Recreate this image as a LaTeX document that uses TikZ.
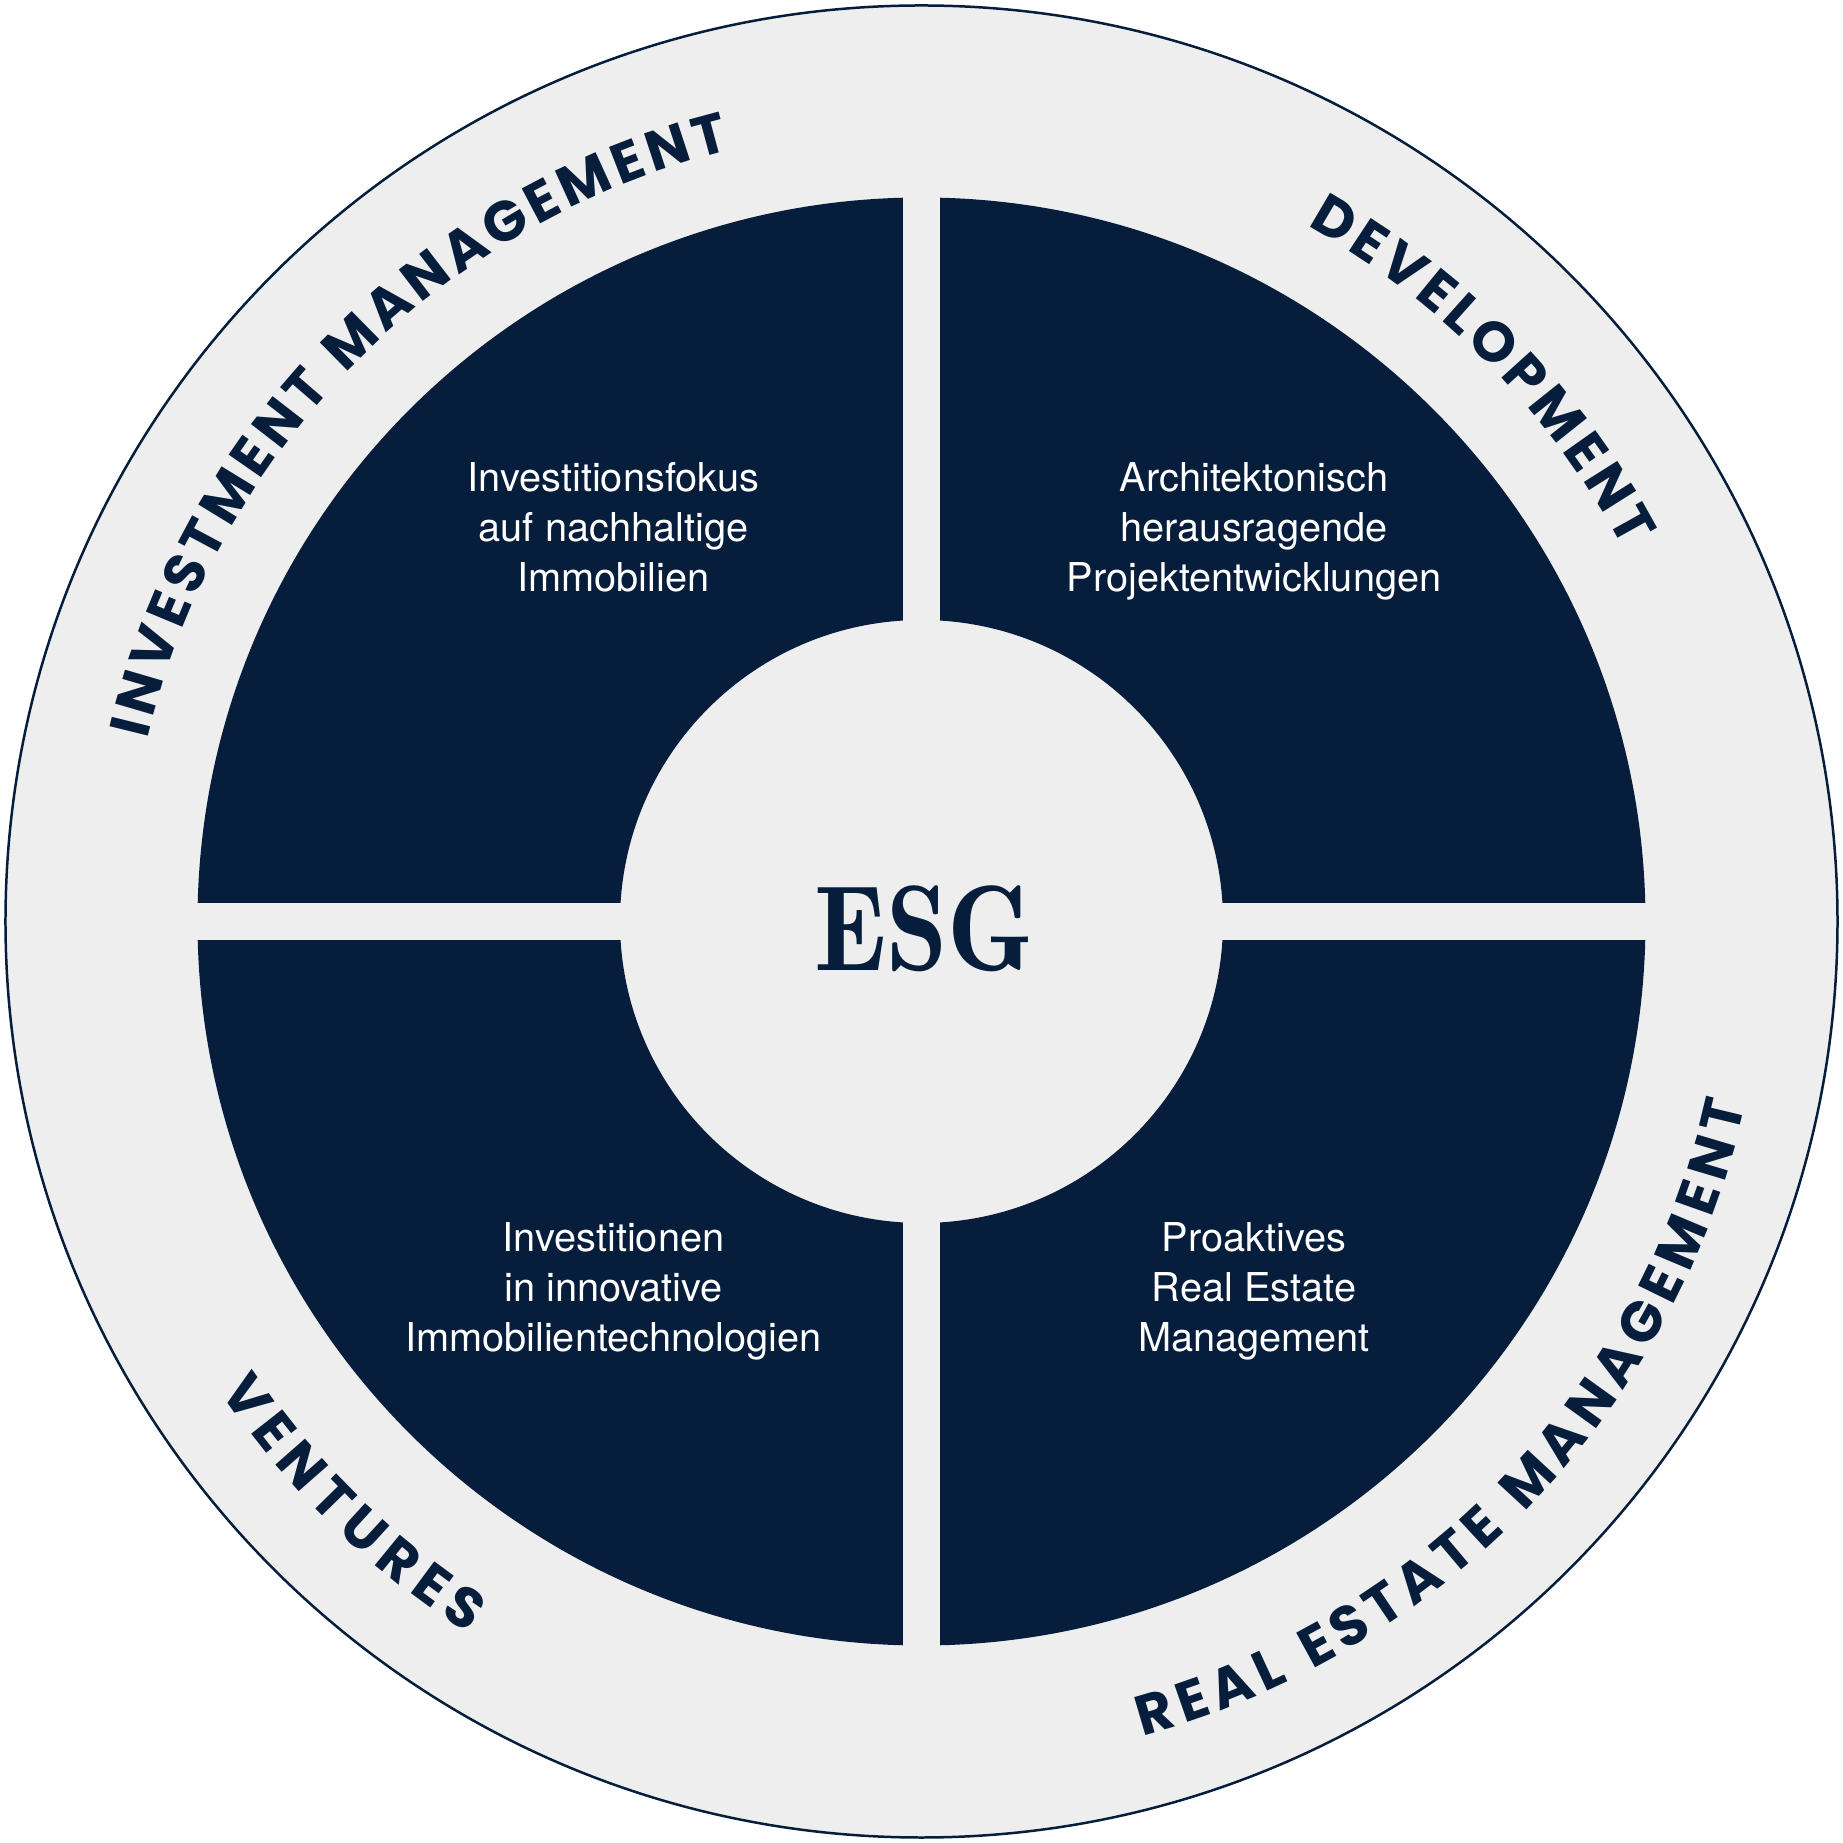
\documentclass[tikz,border=0pt]{standalone}
\usepackage{fontspec}
\usepackage{graphicx}
\usetikzlibrary{decorations.text}
\newfontfamily\ringfont{Poppins Bold}
\newfontfamily\bodyfont{TeX Gyre Heros}
\newfontfamily\esgfont{lmromandemi10-regular}[Extension=.otf]
\definecolor{navy}{HTML}{061D3C}
\definecolor{ringgrey}{HTML}{EEEEEE}
\begin{document}
\begin{tikzpicture}[x=0.01cm,y=0.01cm,
  body/.style={text=white, font=\bodyfont\fontsize{11.3pt}{14.23pt}\selectfont, align=center, anchor=base, inner sep=0pt},
  ringtext/.style={decorate, decoration={text along path, text align={fit to path}, text color=navy, text={|\ringfont\fontsize{16pt}{18pt}\selectfont|#1}}}
]
\useasboundingbox (-921.5,-921.5) rectangle (921.5,921.5);
\fill[white] (-921.5,-921.5) rectangle (921.5,921.5);
\fill[ringgrey] (0,0) circle[radius=916];
\draw[navy, line width=0.71pt] (0,0) circle[radius=916];
\fill[navy, even odd rule] (0,0) circle[radius=724] (0,0) circle[radius=301.5];
\fill[ringgrey] (-730,-18.5) rectangle (730,18.5);
\fill[ringgrey] (-18.5,-730) rectangle (18.5,730);

% anchor=base puts the last line's baseline at the coordinate
\node[body] (tl) at (-308,330) {Investitionsfokus\\auf nachhaltige\\Immobilien};
\node[body] (tr) at (332.5,330) {Architektonisch\\herausragende\\Projektentwicklungen};
\node[body] (bl) at (-308,-430.5) {Investitionen\\in innovative\\Immobilientechnologien};
\node[body] (br) at (332.5,-430.5) {Proaktives\\Real Estate\\Management};

\node[anchor=base, text=navy, inner sep=0pt, font=\esgfont\fontsize{34.6pt}{40pt}\selectfont] (esg) at (3,-49.5) {\scalebox{0.905}[1]{ESG}};

\path[ringtext={INVESTMENT MANAGEMENT}] (166.75:795) arc[start angle=166.75, end angle=103.94, radius=795];
\path[ringtext={DEVELOPMENT}] (61.0:795) arc[start angle=61.0, end angle=27.96, radius=795];
\path[ringtext={VENTURES}] (213.8:844) arc[start angle=213.8, end angle=237.57, radius=844];
\path[ringtext={REAL ESTATE MANAGEMENT}] (-74.83:844) arc[start angle=-74.83, end angle=-12.5, radius=844];
\end{tikzpicture}
\end{document}
